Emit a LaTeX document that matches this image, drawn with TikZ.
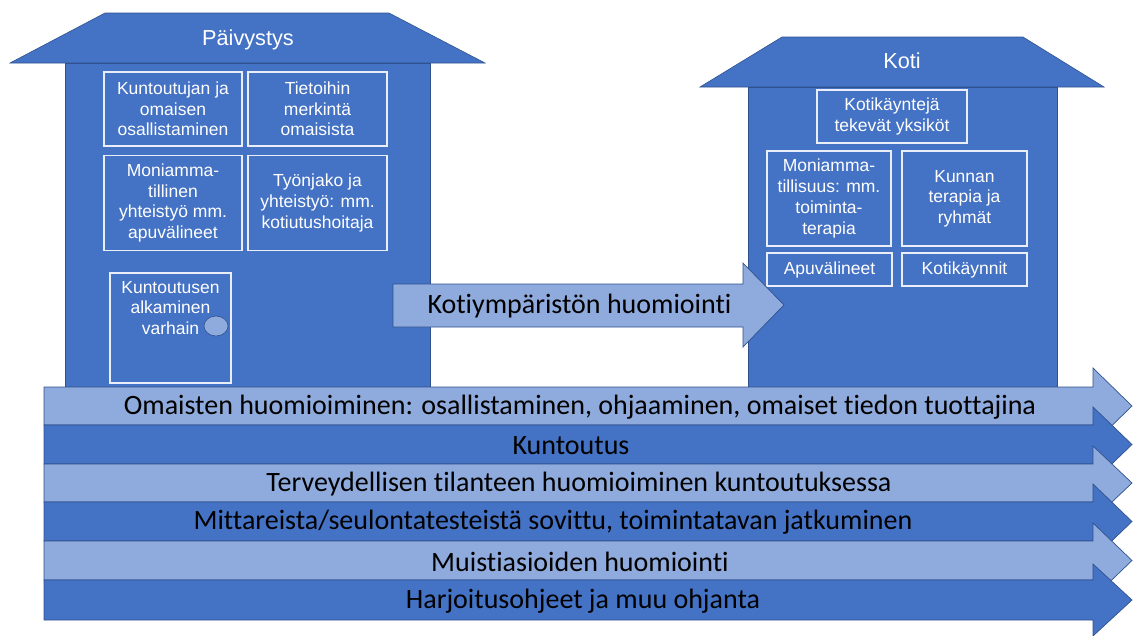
\documentclass[tikz,border=0pt]{standalone}
\usepackage{fontspec}
\usetikzlibrary{shapes.geometric}
\setmainfont{Liberation Sans}
\newfontfamily\calfont[Ligatures={NoCommon}]{Carlito}
\definecolor{dblue}{HTML}{4472C4}
\definecolor{lblue}{HTML}{8FAADC}
\definecolor{edgeblue}{HTML}{2F528F}
\begin{document}
\begin{tikzpicture}[x=1pt,y=-1pt,
  house/.style={fill=dblue, draw=edgeblue, line width=0.6pt},
  roofhead/.style={text=white, font=\fontsize{21.7}{24}\selectfont},
  box/.style={draw=white!88!dblue, line width=1.3pt, text=white, align=center,
    font=\fontsize{17.5}{20.7}\selectfont, inner sep=0pt},
  darkband/.style={fill=dblue, draw=edgeblue, line width=0.7pt},
  lightband/.style={fill=lblue, draw=edgeblue, line width=0.7pt},
  bandtext/.style={text=black, font=\calfont\fontsize{28}{30}\selectfont, inner sep=0pt}
]
\useasboundingbox (0,0) rectangle (1133,635);

% ---- left house: Päivystys
\draw[house] (10,63) -- (105,13) -- (389,13) -- (485,63) -- cycle;
\draw[house] (65,63) rectangle (430,392);
\node[roofhead] (paiv) at (248,40) {Päivystys};
\node[box, minimum width=138, minimum height=74] (l1) at (173,109) {Kuntoutujan ja\\omaisen\\osallistaminen};
\node[box, minimum width=139, minimum height=74] (l2) at (317.5,109) {Tietoihin\\merkintä\\omaisista};
\node[box, minimum width=138, minimum height=95] (l3) at (173,203) {Moniamma-\\tillinen\\yhteistyö mm.\\apuvälineet};
\node[box, minimum width=139, minimum height=95] (l4) at (317.5,203) {Työnjako ja\\yhteistyö: mm.\\kotiutushoitaja};
\node[box, minimum width=121, minimum height=110] (l5) at (170.5,328) {};
\node[box, draw=none, anchor=north] (l5t) at ([yshift=-8pt]l5.north) {Kuntoutusen\\alkaminen\\varhain};
\node[ellipse, fill=lblue, draw=edgeblue, line width=0.6pt, minimum width=24, minimum height=20, inner sep=0pt] (knob) at (216,326) {};

% ---- right house: Koti
\draw[house] (700,87) -- (782,37) -- (1023,37) -- (1104,87) -- cycle;
\draw[house] (748,87) rectangle (1057,392);
\node[roofhead] (koti) at (902,61) {Koti};
\node[box, minimum width=150, minimum height=53] (r1) at (892,116.5) {Kotikäyntejä\\tekevät yksiköt};
\node[box, minimum width=124, minimum height=95] (r2) at (829,198.5) {Moniamma-\\tillisuus: mm.\\toiminta-\\terapia};
\node[box, minimum width=125, minimum height=95] (r3) at (964.5,198.5) {Kunnan\\terapia ja\\ryhmät};
\node[box, minimum width=125, minimum height=33] (r4) at (829.5,269.5) {Apuvälineet};
\node[box, minimum width=125, minimum height=33] (r5) at (964.5,269.5) {Kotikäynnit};

% ---- middle arrow
\draw[lightband] (393,284) -- (743,284) -- (743,263) -- (784,305) -- (743,347) -- (743,327) -- (393,327) -- cycle;
\node[bandtext] (koty) at (579.5,306) {Kotiympäristön huomiointi};

% ---- bands
\draw[lightband] (44,387) -- (1093,387) -- (1093,368) -- (1132,406) -- (1093,444) -- (1093,425) -- (44,425) -- cycle;
\node[bandtext] (b1) at (580,407) {Omaisten huomioiminen: osallistaminen, ohjaaminen, omaiset tiedon tuottajina};
\draw[darkband] (44,425) -- (1093,425) -- (1093,407) -- (1132,444.5) -- (1093,482) -- (1093,464) -- (44,464) -- cycle;
\node[bandtext] (b2) at (571,445.5) {Kuntoutus};
\draw[lightband] (44,464) -- (1093,464) -- (1093,446) -- (1132,483) -- (1093,520) -- (1093,502) -- (44,502) -- cycle;
\node[bandtext] (b3) at (579,484) {Terveydellisen tilanteen huomioiminen kuntoutuksessa};
\draw[darkband] (44,502) -- (1093,502) -- (1093,484) -- (1132,521.5) -- (1093,559) -- (1093,541) -- (44,541) -- cycle;
\node[bandtext] (b4) at (553,522.5) {Mittareista/seulontatesteistä sovittu, toimintatavan jatkuminen};
\draw[lightband] (44,541) -- (1093,541) -- (1093,523) -- (1132,560.5) -- (1093,598) -- (1093,580) -- (44,580) -- cycle;
\node[bandtext] (b5) at (580,561.5) {Muistiasioiden huomiointi};
\draw[darkband] (44,580) -- (1093,580) -- (1093,564) -- (1132,600) -- (1093,636) -- (1093,620) -- (44,620) -- cycle;
\node[bandtext] (b6) at (583,601) {Harjoitusohjeet ja muu ohjanta};
\end{tikzpicture}
\end{document}
